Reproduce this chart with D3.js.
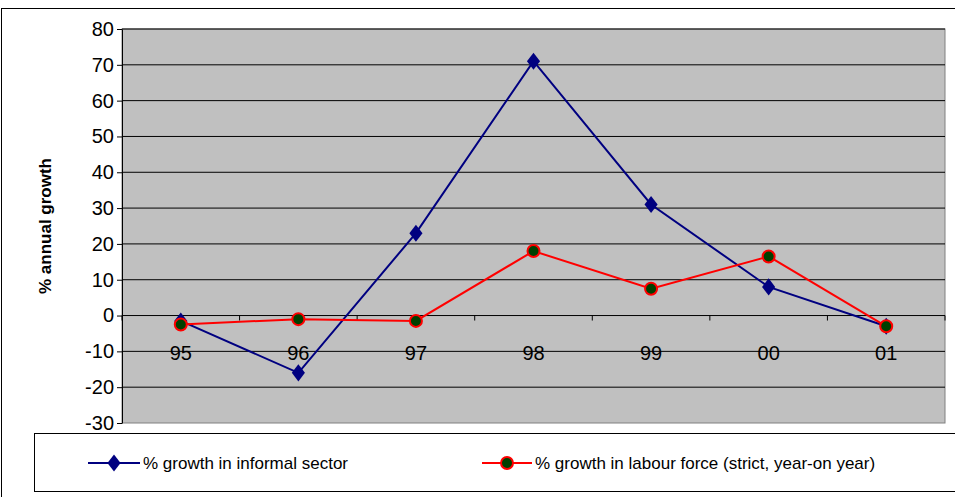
<!DOCTYPE html>
<html><head><meta charset="utf-8">
<script src="https://cdn.jsdelivr.net/npm/d3@7"></script>
<style>body{margin:0;background:#fff;font-family:Arial,"Liberation Sans",sans-serif}</style>
</head><body><svg id="chart"></svg>
<script>
const years = ["95", "96", "97", "98", "99", "00", "01"];
const informal = [-1.5, -16, 23, 71, 31, 8, -3];
const labour = [-2.5, -1, -1.5, 18, 7.5, 16.5, -3];
const yTicks = [80, 70, 60, 50, 40, 30, 20, 10, 0, -10, -20, -30];

const width = 955, height = 497;
const svg = d3.select("#chart").attr("width", width).attr("height", height);

const x = d3.scaleBand().domain(years).range([122, 945]);
const y = d3.scaleLinear().domain([-30, 80]).range([423, 29]);

svg.append("rect").attr("x", 1.5).attr("y", 8.5).attr("width", 960).attr("height", 500)
  .attr("fill", "none").attr("stroke", "#000");

svg.append("rect").attr("x", 122).attr("y", 29).attr("width", 823).attr("height", 394)
  .attr("fill", "#c0c0c0").attr("stroke", "#808080");

svg.append("g").selectAll("line").data(yTicks.filter(d => d > -30)).join("line")
  .attr("x1", 122).attr("x2", 945).attr("y1", d => y(d)).attr("y2", d => y(d))
  .attr("stroke", "#000").attr("stroke-width", 1);

const yAxis = svg.append("g").attr("transform", "translate(122,0)")
  .call(d3.axisLeft(y).tickValues(yTicks).tickSize(5).tickSizeOuter(0).tickFormat(d => String(d)));
yAxis.selectAll("text").attr("font-size", 20).attr("fill", "#000").attr("font-family", "Arial, Liberation Sans");
yAxis.select(".domain").attr("stroke", "#000");

// category axis on zero line
svg.append("g").selectAll("line").data(d3.range(years.length + 1)).join("line")
  .attr("x1", i => 122 + i * x.step()).attr("x2", i => 122 + i * x.step())
  .attr("y1", y(0)).attr("y2", y(0) + 5).attr("stroke", "#000");
svg.append("g").selectAll("text").data(years).join("text")
  .attr("x", d => x(d) + x.bandwidth() / 2).attr("y", y(0) + 44)
  .attr("text-anchor", "middle").attr("font-size", 20).text(d => d);

svg.append("text").attr("transform", `translate(51,${y(25)}) rotate(-90)`)
  .attr("text-anchor", "middle").attr("font-size", 17).attr("font-weight", "bold")
  .text("% annual growth");

const cx = d => x(d) + x.bandwidth() / 2;
const line = d3.line().x((d, i) => cx(years[i])).y(d => y(d));
const diamond = d3.symbol().type(d3.symbolDiamond2).size(110);

svg.append("path").datum(informal).attr("d", line).attr("fill", "none")
  .attr("stroke", "#000080").attr("stroke-width", 2);
svg.append("g").selectAll("path").data(informal).join("path")
  .attr("d", diamond).attr("transform", (d, i) => `translate(${cx(years[i])},${y(d)}) scale(1,1.3)`)
  .attr("fill", "#000080");

svg.append("path").datum(labour).attr("d", line).attr("fill", "none")
  .attr("stroke", "#ff0000").attr("stroke-width", 2);
svg.append("g").selectAll("circle").data(labour).join("circle")
  .attr("cx", (d, i) => cx(years[i])).attr("cy", d => y(d)).attr("r", 6)
  .attr("fill", "#004000").attr("stroke", "#ff0000").attr("stroke-width", 2);

// legend
svg.append("rect").attr("x", 34.5).attr("y", 433.5).attr("width", 960).attr("height", 58)
  .attr("fill", "#fff").attr("stroke", "#000");
const lg = svg.append("g");
lg.append("line").attr("x1", 88).attr("x2", 140).attr("y1", 463).attr("y2", 463).attr("stroke", "#000080").attr("stroke-width", 2);
lg.append("path").attr("d", diamond).attr("transform", "translate(114,463) scale(1,1.3)").attr("fill", "#000080");
lg.append("text").attr("x", 143).attr("y", 469).attr("font-size", 17).text("% growth in informal sector");
lg.append("line").attr("x1", 482).attr("x2", 532).attr("y1", 463).attr("y2", 463).attr("stroke", "#ff0000").attr("stroke-width", 2);
lg.append("circle").attr("cx", 507).attr("cy", 463).attr("r", 6).attr("fill", "#004000").attr("stroke", "#ff0000").attr("stroke-width", 2);
lg.append("text").attr("x", 535).attr("y", 469).attr("font-size", 17).text("% growth in labour force (strict, year-on year)");
</script></body></html>
